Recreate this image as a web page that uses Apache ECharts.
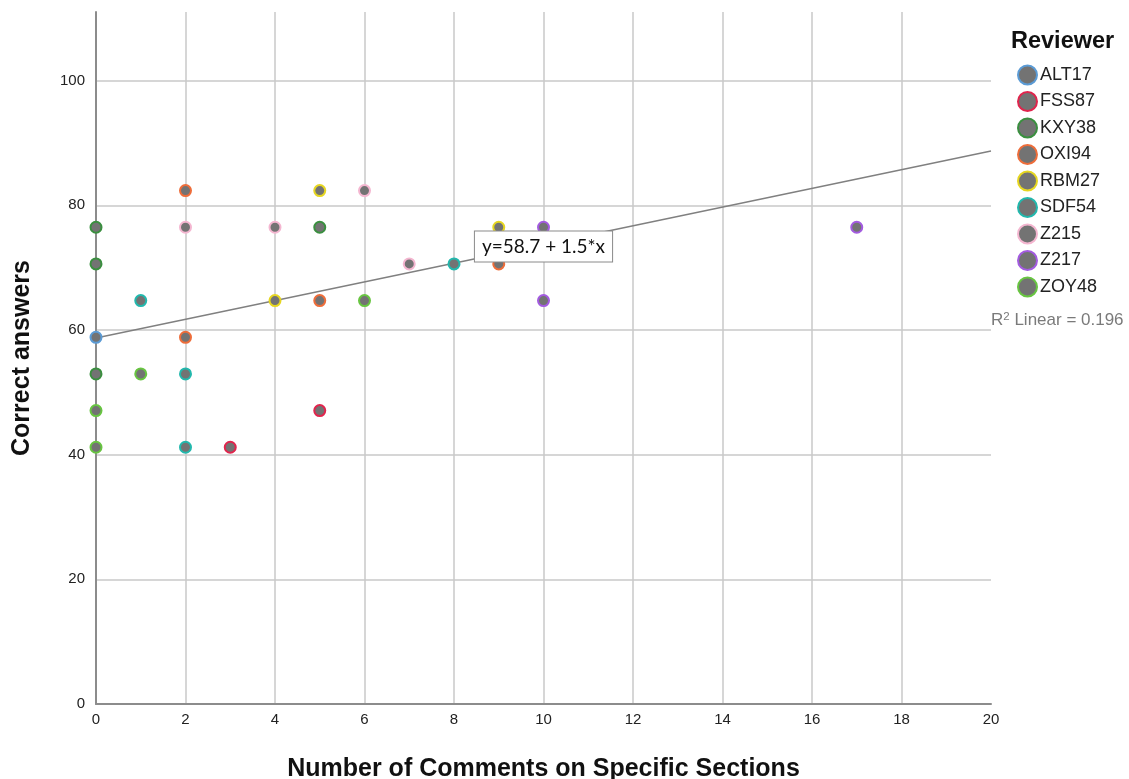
<!DOCTYPE html>
<html>
<head>
<meta charset="utf-8">
<script src="https://cdn.jsdelivr.net/npm/echarts@6/dist/echarts.min.js"></script>
<style>
  html, body { margin: 0; padding: 0; background: #fff; }
  #main { width: 1129px; height: 779px; }
</style>
</head>
<body>
<div id="main"></div>
<script>
// reviewers and their marker outline colours
var reviewers = ['ALT17', 'FSS87', 'KXY38', 'OXI94', 'RBM27', 'SDF54', 'Z215', 'Z217', 'ZOY48'];
var reviewerColors = ['#5b9bd5', '#e0254d', '#3a8f3f', '#ee6d3a', '#e6d621', '#22b8ad', '#f4b6d0', '#a35be0', '#68c541'];

// one entry per point
var pointReviewer = ['ALT17', 'FSS87', 'FSS87', 'KXY38', 'KXY38', 'KXY38', 'KXY38',
  'OXI94', 'OXI94', 'OXI94', 'OXI94', 'RBM27', 'RBM27', 'RBM27',
  'SDF54', 'SDF54', 'SDF54', 'SDF54', 'Z215', 'Z215', 'Z215', 'Z215',
  'Z217', 'Z217', 'Z217', 'ZOY48', 'ZOY48', 'ZOY48', 'ZOY48'];
var pointComments = [0, 5, 3, 0, 5, 0, 0,
  2, 9, 5, 2, 5, 9, 4,
  8, 1, 2, 2, 6, 2, 4, 7,
  10, 17, 10, 6, 1, 0, 0];
var pointCorrect = [58.82, 47.06, 41.18, 76.47, 76.47, 70.59, 52.94,
  82.35, 70.59, 64.71, 58.82, 82.35, 76.47, 64.71,
  70.59, 64.71, 52.94, 41.18, 82.35, 76.47, 76.47, 70.59,
  76.47, 76.47, 64.71, 64.71, 52.94, 47.06, 41.18];

// fit line
var fitIntercept = 58.7;
var fitSlope = 1.5;
var fitRange = [0, 20];
var rSquared = 0.196;

var xTicks = [0, 2, 4, 6, 8, 10, 12, 14, 16, 18, 20];
var yTicks = [0, 20, 40, 60, 80, 100];

var myChart = echarts.init(document.getElementById('main'));

var series = [];
for (var r = 0; r < reviewers.length; r++) {
  var pts = [];
  for (var i = 0; i < pointReviewer.length; i++) {
    if (pointReviewer[i] == reviewers[r]) pts.push([pointComments[i], pointCorrect[i]]);
  }
  series.push({
    name: reviewers[r],
    type: 'scatter',
    data: pts,
    symbolSize: 11,
    z: 3,
    itemStyle: { color: '#737373', borderColor: reviewerColors[r], borderWidth: 2, opacity: 1 },
    emphasis: { disabled: true }
  });
}

series.push({
  name: 'fit',
  type: 'line',
  data: [
    [fitRange[0], fitIntercept + fitSlope * fitRange[0]],
    [fitRange[1], fitIntercept + fitSlope * fitRange[1]]
  ],
  symbol: 'none',
  z: 2,
  lineStyle: { color: '#808080', width: 1.5 },
  markPoint: {
    symbol: 'rect',
    symbolSize: 2,
    itemStyle: { color: 'rgba(0,0,0,0)' },
    z: 5,
    data: [{
      coord: [10, 73.4],
      label: {
        show: true,
        position: 'inside',
        formatter: 'y=' + fitIntercept + ' + ' + fitSlope + '*x',
        fontFamily: 'Lato',
        fontSize: 19,
        color: '#111',
        backgroundColor: '#fff',
        borderColor: '#8a8a8a',
        borderWidth: 1,
        padding: [6, 7, 5, 7]
      }
    }]
  }
});

var option = {
  animation: false,
  textStyle: { fontFamily: 'Liberation Sans, Arial, sans-serif' },
  grid: { left: 96, right: 138, top: 12, bottom: 75, outerBoundsMode: 'none' },
  title: {
    text: 'Reviewer',
    left: 1006,
    top: 25,
    textStyle: { fontSize: 23.5, fontWeight: 'bold', color: '#111' }
  },
  legend: {
    data: reviewers,
    orient: 'vertical',
    left: 1012,
    top: 59.5,
    icon: 'circle',
    itemWidth: 19,
    itemHeight: 19,
    itemGap: 5.5,
    selectedMode: false,
    textStyle: { fontSize: 18, color: '#222', padding: [0, 0, 0, -2] }
  },
  graphic: [{
    type: 'text',
    left: 991,
    top: 311,
    style: {
      text: '{a|R}{s|2}{a| Linear = ' + rSquared + '}',
      rich: {
        a: { fontSize: 17, fill: '#7a7a7a', fontFamily: 'Liberation Sans, Arial' },
        s: { fontSize: 11.5, fill: '#7a7a7a', fontFamily: 'Liberation Sans, Arial', verticalAlign: 'top', padding: [0, 0, 7, 0] }
      }
    }
  }],
  xAxis: {
    type: 'value',
    min: xTicks[0],
    max: xTicks[xTicks.length - 1],
    interval: 2,
    name: 'Number of Comments on Specific Sections',
    nameLocation: 'middle',
    nameGap: 53,
    nameTextStyle: { fontSize: 25, fontWeight: 'bold', color: '#111' },
    axisLine: { lineStyle: { color: '#8c8c8c', width: 2 } },
    axisTick: { show: false },
    axisLabel: { fontSize: 15, color: '#222', margin: 8 },
    splitLine: { show: true, showMaxLine: false, lineStyle: { color: '#c8c8c8', width: 1.5 } }
  },
  yAxis: {
    type: 'value',
    min: yTicks[0],
    max: 111,
    interval: 20,
    name: 'Correct answers',
    nameLocation: 'middle',
    nameGap: 61,
    nameTextStyle: { fontSize: 25, fontWeight: 'bold', color: '#111' },
    axisLine: { show: true, lineStyle: { color: '#8c8c8c', width: 2 } },
    axisTick: { show: false },
    axisLabel: {
      fontSize: 15, color: '#222', margin: 11, showMaxLabel: false,
      formatter: function (v) { return yTicks.indexOf(v) >= 0 ? v : ''; }
    },
    splitLine: { show: true, showMaxLine: false, lineStyle: { color: '#c8c8c8', width: 1.5 } }
  },
  series: series
};

myChart.setOption(option);
</script>
</body>
</html>
